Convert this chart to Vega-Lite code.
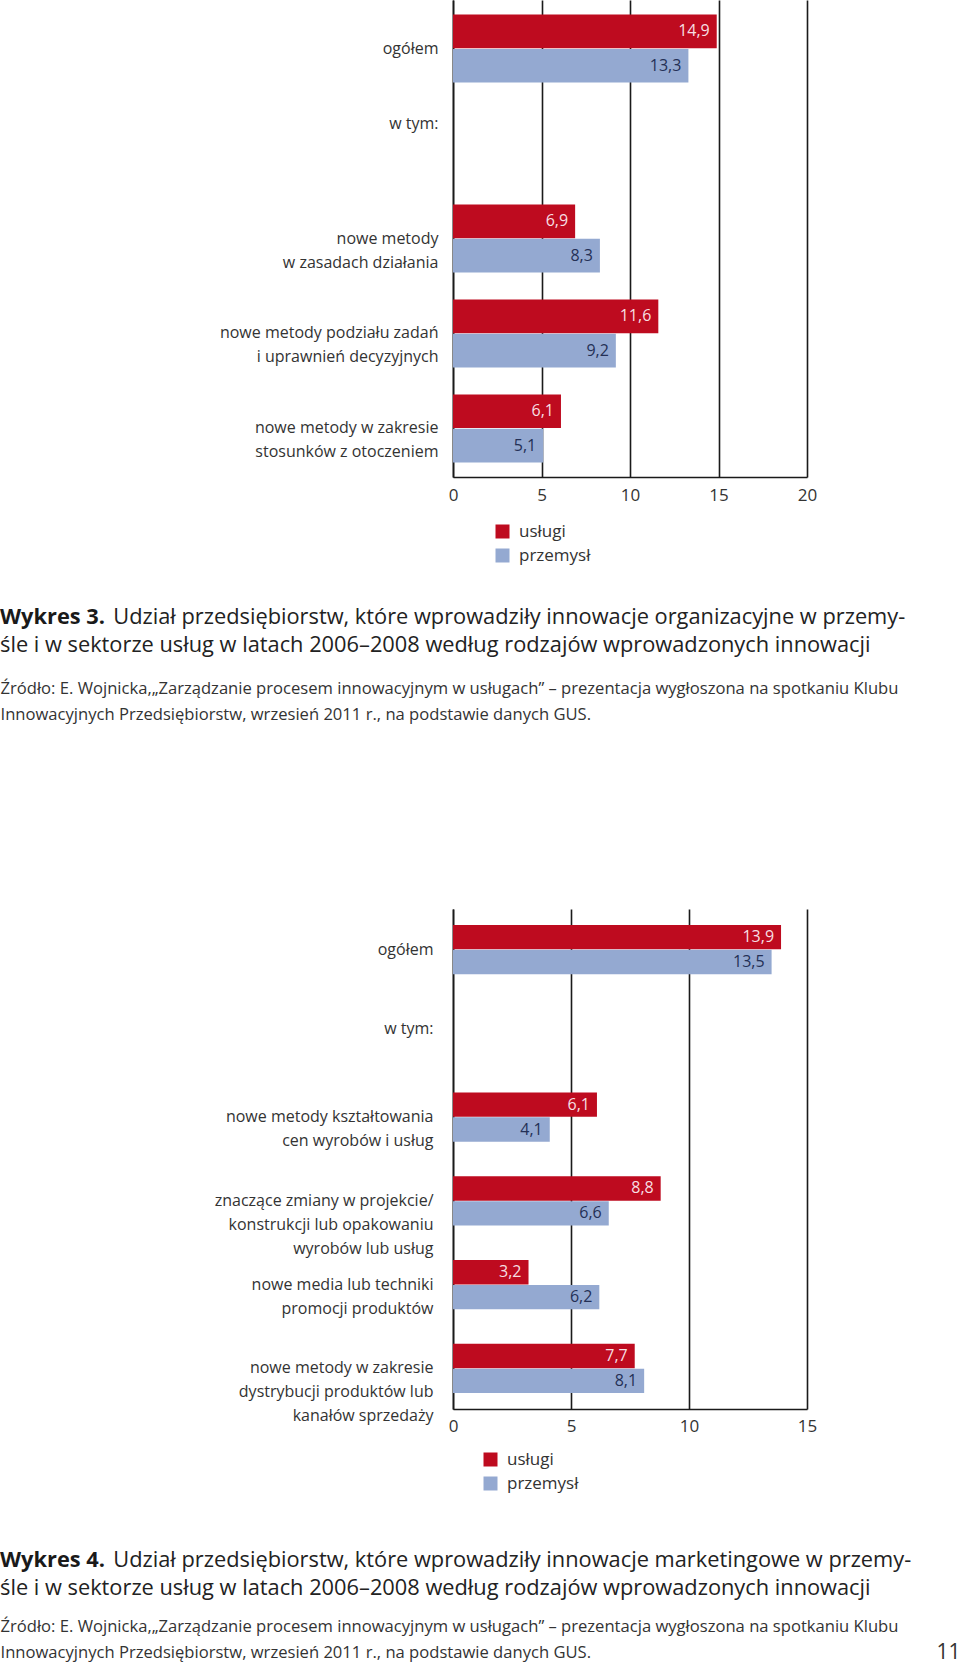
{
  "$schema": "https://vega.github.io/schema/vega-lite/v6.json",
  "background": "white",
  "padding": 0,
  "spacing": 185,
  "datasets": {
    "w3": [
      {"kategoria": "ogółem", "sektor": "usługi", "wartosc": 14.9},
      {"kategoria": "ogółem", "sektor": "przemysł", "wartosc": 13.3},
      {"kategoria": "nowe metody\nw zasadach działania", "sektor": "usługi", "wartosc": 6.9},
      {"kategoria": "nowe metody\nw zasadach działania", "sektor": "przemysł", "wartosc": 8.3},
      {"kategoria": "nowe metody podziału zadań\ni uprawnień decyzyjnych", "sektor": "usługi", "wartosc": 11.6},
      {"kategoria": "nowe metody podziału zadań\ni uprawnień decyzyjnych", "sektor": "przemysł", "wartosc": 9.2},
      {"kategoria": "nowe metody w zakresie\nstosunków z otoczeniem", "sektor": "usługi", "wartosc": 6.1},
      {"kategoria": "nowe metody w zakresie\nstosunków z otoczeniem", "sektor": "przemysł", "wartosc": 5.1}
    ],
    "w4": [
      {"kategoria": "ogółem", "sektor": "usługi", "wartosc": 13.9},
      {"kategoria": "ogółem", "sektor": "przemysł", "wartosc": 13.5},
      {"kategoria": "nowe metody kształtowania\ncen wyrobów i usług", "sektor": "usługi", "wartosc": 6.1},
      {"kategoria": "nowe metody kształtowania\ncen wyrobów i usług", "sektor": "przemysł", "wartosc": 4.1},
      {"kategoria": "znaczące zmiany w projekcie/\nkonstrukcji lub opakowaniu\nwyrobów lub usług", "sektor": "usługi", "wartosc": 8.8},
      {"kategoria": "znaczące zmiany w projekcie/\nkonstrukcji lub opakowaniu\nwyrobów lub usług", "sektor": "przemysł", "wartosc": 6.6},
      {"kategoria": "nowe media lub techniki\npromocji produktów", "sektor": "usługi", "wartosc": 3.2},
      {"kategoria": "nowe media lub techniki\npromocji produktów", "sektor": "przemysł", "wartosc": 6.2},
      {"kategoria": "nowe metody w zakresie\ndystrybucji produktów lub\nkanałów sprzedaży", "sektor": "usługi", "wartosc": 7.7},
      {"kategoria": "nowe metody w zakresie\ndystrybucji produktów lub\nkanałów sprzedaży", "sektor": "przemysł", "wartosc": 8.1}
    ]
  },
  "vconcat": [
    {
      "width": 354,
      "height": 477,
      "data": {"name": "w3"},
      "title": {
        "text": "Wykres 3.",
        "subtitle": [
          "\u200b\u00a0\u00a0\u00a0\u00a0\u00a0\u00a0\u00a0\u00a0\u00a0\u00a0\u00a0\u00a0\u00a0\u00a0\u00a0\u00a0\u00a0\u00a0\u00a0\u00a0Udział przedsiębiorstw, które wprowadziły innowacje organizacyjne w przemy-",
          "śle i w sektorze usług w latach 2006–2008 według rodzajów wprowadzonych innowacji"
        ],
        "orient": "top",
        "anchor": "start",
        "frame": "group",
        "dx": -453,
        "offset": -657,
        "font": "Open Sans",
        "fontSize": 21.8,
        "fontWeight": "bold",
        "color": "#1a1a1a",
        "subtitleFont": "Open Sans",
        "subtitleFontSize": 21.8,
        "subtitleFontWeight": "normal",
        "subtitleColor": "#222222",
        "subtitleLineHeight": 28,
        "subtitlePadding": -21.8
      },
      "encoding": {
        "y": {
          "field": "kategoria",
          "type": "nominal",
          "scale": {
            "domain": ["ogółem", "w tym:", "nowe metody\nw zasadach działania", "nowe metody podziału zadań\ni uprawnień decyzyjnych", "nowe metody w zakresie\nstosunków z otoczeniem"],
            "paddingInner": 0.284,
            "paddingOuter": 0.153
          },
          "axis": {
            "title": null,
            "labelExpr": "split(datum.label, '\\n')",
            "labelFont": "Open Sans",
            "labelFontSize": 16,
            "labelLineHeight": 24,
            "labelLimit": 400,
            "labelPadding": 15,
            "labelColor": "#333333",
            "labelOffset": {"condition": {"test": "datum.value === 'w tym:'", "value": -20}, "value": 0},
            "ticks": false,
            "tickSize": 0,
            "domain": true,
            "domainColor": "#1a1a1a",
            "domainWidth": 1.6,
            "grid": false
          }
        },
        "yOffset": {
          "field": "sektor",
          "type": "nominal",
          "scale": {"domain": ["usługi", "przemysł"], "paddingInner": 0.02}
        },
        "x": {
          "field": "wartosc",
          "type": "quantitative",
          "scale": {"domain": [0, 20], "nice": false},
          "axis": {
            "values": [0, 5, 10, 15, 20],
            "grid": true,
            "gridColor": "#1a1a1a",
            "gridWidth": 1.6,
            "gridOpacity": 1,
            "ticks": false,
            "tickSize": 0,
            "domain": true,
            "domainColor": "#1a1a1a",
            "domainWidth": 1.6,
            "labelFont": "Open Sans",
            "labelFontSize": 17,
            "labelPadding": 10,
            "labelColor": "#333333",
            "labelFlush": false,
            "title": [
              "Źródło: E. Wojnicka,„Zarządzanie procesem innowacyjnym w usługach” – prezentacja wygłoszona na spotkaniu Klubu",
              "Innowacyjnych Przedsiębiorstw, wrzesień 2011 r., na podstawie danych GUS."
            ],
            "titleX": -453,
            "titleY": 203,
            "titleAlign": "left",
            "titleBaseline": "top",
            "titleAngle": 0,
            "titleFont": "Open Sans",
            "titleFontSize": 16.6,
            "titleFontWeight": "normal",
            "titleColor": "#333333",
            "titleLineHeight": 26.5
          }
        }
      },
      "layer": [
        {
          "mark": {"type": "bar"},
          "encoding": {
            "color": {
              "field": "sektor",
              "type": "nominal",
              "scale": {"domain": ["usługi", "przemysł"], "range": ["#BE0B1F", "#94A9D1"]},
              "legend": {
                "orient": "none",
                "legendX": 41,
                "legendY": 523,
                "title": null,
                "padding": 0,
                "symbolType": "square",
                "symbolSize": 196,
                "symbolStrokeWidth": 0,
                "labelFont": "Open Sans",
                "labelFontSize": 17,
                "labelColor": "#333333",
                "labelOffset": 8,
                "rowPadding": 6
              }
            }
          }
        },
        {
          "mark": {"type": "text", "align": "right", "baseline": "middle", "dx": -7, "font": "Open Sans", "fontSize": 16},
          "encoding": {
            "text": {"field": "wartosc", "type": "quantitative", "format": ".1f"},
            "color": {"condition": {"test": "datum.sektor === 'usługi'", "value": "#f7dfe2"}, "value": "#243056"}
          }
        }
      ]
    },
    {
      "width": 354,
      "height": 500,
      "data": {"name": "w4"},
      "title": {
        "text": "Wykres 4.",
        "subtitle": [
          "\u200b\u00a0\u00a0\u00a0\u00a0\u00a0\u00a0\u00a0\u00a0\u00a0\u00a0\u00a0\u00a0\u00a0\u00a0\u00a0\u00a0\u00a0\u00a0\u00a0\u00a0Udział przedsiębiorstw, które wprowadziły innowacje marketingowe w przemy-",
          "śle i w sektorze usług w latach 2006–2008 według rodzajów wprowadzonych innowacji"
        ],
        "orient": "top",
        "anchor": "start",
        "frame": "group",
        "dx": -453,
        "offset": -691,
        "font": "Open Sans",
        "fontSize": 21.8,
        "fontWeight": "bold",
        "color": "#1a1a1a",
        "subtitleFont": "Open Sans",
        "subtitleFontSize": 21.8,
        "subtitleFontWeight": "normal",
        "subtitleColor": "#222222",
        "subtitleLineHeight": 28,
        "subtitlePadding": -21.8
      },
      "encoding": {
        "y": {
          "field": "kategoria",
          "type": "nominal",
          "scale": {
            "domain": ["ogółem", "w tym:", "nowe metody kształtowania\ncen wyrobów i usług", "znaczące zmiany w projekcie/\nkonstrukcji lub opakowaniu\nwyrobów lub usług", "nowe media lub techniki\npromocji produktów", "nowe metody w zakresie\ndystrybucji produktów lub\nkanałów sprzedaży"],
            "paddingInner": 0.412,
            "paddingOuter": 0.19
          },
          "axis": {
            "labelExpr": "split(datum.label, '\\n')",
            "labelFont": "Open Sans",
            "labelFontSize": 16,
            "labelLineHeight": 24,
            "labelLimit": 400,
            "labelPadding": 20,
            "labelColor": "#333333",
            "labelOffset": {"condition": {"test": "datum.value === 'w tym:'", "value": -4}, "value": 0},
            "ticks": false,
            "tickSize": 0,
            "domain": true,
            "domainColor": "#1a1a1a",
            "domainWidth": 1.6,
            "grid": false,
            "title": "11",
            "titleX": 507,
            "titleY": 743,
            "titleAngle": 0,
            "titleAlign": "right",
            "titleBaseline": "middle",
            "titleFont": "Open Sans",
            "titleFontSize": 21,
            "titleFontWeight": "normal",
            "titleColor": "#333333"
          }
        },
        "yOffset": {
          "field": "sektor",
          "type": "nominal",
          "scale": {"domain": ["usługi", "przemysł"], "paddingInner": 0.02}
        },
        "x": {
          "field": "wartosc",
          "type": "quantitative",
          "scale": {"domain": [0, 15], "nice": false},
          "axis": {
            "values": [0, 5, 10, 15],
            "grid": true,
            "gridColor": "#1a1a1a",
            "gridWidth": 1.6,
            "gridOpacity": 1,
            "ticks": false,
            "tickSize": 0,
            "domain": true,
            "domainColor": "#1a1a1a",
            "domainWidth": 1.6,
            "labelFont": "Open Sans",
            "labelFontSize": 17,
            "labelPadding": 9,
            "labelColor": "#333333",
            "labelFlush": false,
            "title": [
              "Źródło: E. Wojnicka,„Zarządzanie procesem innowacyjnym w usługach” – prezentacja wygłoszona na spotkaniu Klubu",
              "Innowacyjnych Przedsiębiorstw, wrzesień 2011 r., na podstawie danych GUS."
            ],
            "titleX": -453,
            "titleY": 209,
            "titleAlign": "left",
            "titleBaseline": "top",
            "titleAngle": 0,
            "titleFont": "Open Sans",
            "titleFontSize": 16.6,
            "titleFontWeight": "normal",
            "titleColor": "#333333",
            "titleLineHeight": 26.5
          }
        }
      },
      "layer": [
        {
          "mark": {"type": "bar"},
          "encoding": {
            "color": {
              "field": "sektor",
              "type": "nominal",
              "scale": {"domain": ["usługi", "przemysł"], "range": ["#BE0B1F", "#94A9D1"]},
              "legend": {
                "orient": "none",
                "legendX": 29,
                "legendY": 542,
                "title": null,
                "padding": 0,
                "symbolType": "square",
                "symbolSize": 196,
                "symbolStrokeWidth": 0,
                "labelFont": "Open Sans",
                "labelFontSize": 17,
                "labelColor": "#333333",
                "labelOffset": 8,
                "rowPadding": 6
              }
            }
          }
        },
        {
          "mark": {"type": "text", "align": "right", "baseline": "middle", "dx": -7, "font": "Open Sans", "fontSize": 16},
          "encoding": {
            "text": {"field": "wartosc", "type": "quantitative", "format": ".1f"},
            "color": {"condition": {"test": "datum.sektor === 'usługi'", "value": "#f7dfe2"}, "value": "#243056"}
          }
        }
      ]
    }
  ],
  "resolve": {
    "scale": {"color": "independent", "yOffset": "independent", "y": "independent", "x": "independent"},
    "legend": {"color": "independent"}
  },
  "config": {
    "font": "Open Sans",
    "view": {"stroke": null},
    "locale": {
      "number": {"decimal": ",", "thousands": " ", "grouping": [3], "currency": ["", " zł"]}
    }
  }
}
